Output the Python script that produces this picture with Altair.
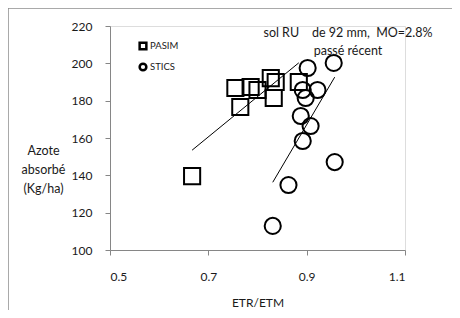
import altair as alt
import pandas as pd

# PASIM (squares)
pasim_x = [0.667, 0.755, 0.765, 0.786, 0.800, 0.827, 0.837, 0.833, 0.884]
pasim_y = [139.6, 186.8, 176.6, 187.3, 185.7, 192.1, 190.0, 181.4, 190.0]
# STICS (circles)
stics_x = [0.902, 0.955, 0.892, 0.922, 0.898, 0.888, 0.908, 0.892, 0.957, 0.863, 0.831]
stics_y = [197.5, 200.2, 185.7, 185.7, 181.4, 171.8, 166.4, 158.4, 147.1, 134.8, 112.9]

series = ["PASIM", "STICS"]
x_ticks = [0.5, 0.7, 0.9, 1.1]
y_ticks = [100, 120, 140, 160, 180, 200, 220]
annotation = "sol RU\u00a0\u00a0\u00a0 de 92 mm,\u00a0 MO=2.8%\npassé récent"

df = pd.DataFrame({
    "x": pasim_x + stics_x,
    "y": pasim_y + stics_y,
    "model": ["PASIM"] * len(pasim_x) + ["STICS"] * len(stics_x),
})

FONT = "Lato"
GRAY = "#868686"
TXT = "#1a1a1a"

xscale = alt.Scale(domain=[0.5, 1.1], nice=False, zero=False)
yscale = alt.Scale(domain=[100, 220], nice=False, zero=False)

xaxis = alt.Axis(values=x_ticks, format=".1f", title="ETR/ETM", grid=False,
                 domainColor=GRAY, tickColor=GRAY, tickSize=5, labelPadding=16,
                 labelOverlap=False, labelFontSize=12, labelFont=FONT, labelColor=TXT,
                 titleFont=FONT, titleFontSize=12, titleFontWeight="normal", titleColor=TXT,
                 titleY=52, titleBaseline="middle")
yaxis = alt.Axis(values=y_ticks, title=["Azote", "absorbé", "(Kg/ha)"], grid=False,
                 domainColor=GRAY, tickColor=GRAY, tickSize=5, labelPadding=13,
                 labelOverlap=False, labelFontSize=12, labelFont=FONT, labelColor=TXT,
                 titleFont=FONT, titleFontSize=12.5, titleFontWeight="normal", titleColor=TXT,
                 titleAngle=0, titleAlign="center", titleBaseline="top",
                 titleX=-67, titleY=118, titleLineHeight=19)

base = alt.Chart(df)

points = base.mark_point(filled=False, strokeWidth=2, size=260, color="black", opacity=1).encode(
    x=alt.X("x:Q", scale=xscale, axis=xaxis),
    y=alt.Y("y:Q", scale=yscale, axis=yaxis),
    shape=alt.Shape("model:N", scale=alt.Scale(domain=series, range=["square", "circle"]),
                    legend=alt.Legend(title=None, orient="none", legendX=28, legendY=15,
                                      padding=0, symbolSize=45, symbolStrokeWidth=2.5,
                                      symbolStrokeColor="black", labelFont=FONT,
                                      labelFontSize=9.5, labelColor=TXT, labelOffset=2,
                                      rowPadding=3)),
)

lines = base.transform_regression("x", "y", groupby=["model"]).mark_line(
    color="black", strokeWidth=1).encode(
    x=alt.X("x:Q", scale=xscale, axis=xaxis),
    y=alt.Y("y:Q", scale=yscale, axis=yaxis),
    detail="model:N",
)

text = alt.Chart(pd.DataFrame({"t": [annotation]})).mark_text(
    lineBreak="\n", font=FONT, fontSize=12.5, color=TXT, align="center",
    baseline="top", lineHeight=18).encode(
    x=alt.value(238), y=alt.value(1), text="t:N")

frame_top = alt.Chart(pd.DataFrame({"a": [0]})).mark_rule(color="#8c8c8c", strokeWidth=1.5).encode(
    x=alt.value(-102), x2=alt.value(350), y=alt.value(-18))
frame_left = alt.Chart(pd.DataFrame({"a": [0]})).mark_rule(color="#8c8c8c", strokeWidth=1.5).encode(
    x=alt.value(-102), y=alt.value(-18), y2=alt.value(300))

chart = alt.layer(frame_top, frame_left, lines, points, text).properties(
    width=295, height=224,
    autosize=alt.AutoSizeParams(type="none"),
    padding={"left": 102, "top": 18, "right": 47, "bottom": 60},
).configure_view(stroke=None).configure(background="white")

chart.save("out.html", embed_options={"renderer": "svg", "actions": False})
